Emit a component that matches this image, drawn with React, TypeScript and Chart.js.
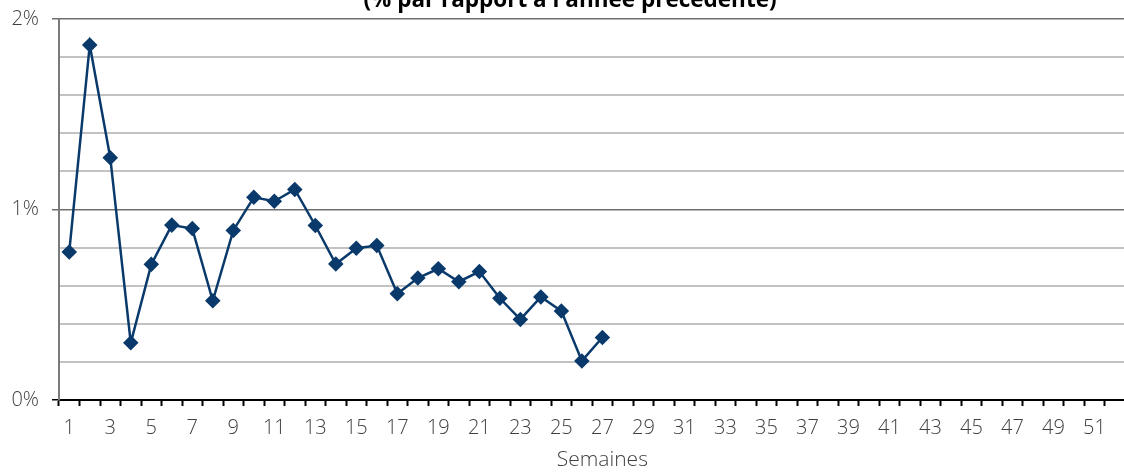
import React, { useEffect, useRef } from "react";
import { Chart, registerables } from "chart.js";

Chart.register(...registerables);

const TITLE = "(% par rapport à l'année précédente)";
const X_TITLE = "Semaines";
const WEEK_COUNT = 53;
const weeks: string[] = Array.from({ length: WEEK_COUNT }, (_, i) => String(i + 1));
const values: number[] = [
  0.777, 1.864, 1.272, 0.3, 0.712, 0.918, 0.9, 0.521, 0.89, 1.064,
  1.043, 1.105, 0.916, 0.714, 0.797, 0.811, 0.558, 0.64, 0.689, 0.621,
  0.674, 0.534, 0.423, 0.541, 0.467, 0.205, 0.328,
];
const Y_MIN = 0;
const Y_MAX = 2;
const Y_STEP = 0.2;

const LINE_COLOR = "#0a3a6b";
const TEXT_COLOR = "#404040";
const FONT = "'Open Sans', 'Noto Sans', sans-serif";

const titlePlugin = {
  id: "clippedTitle",
  afterDraw(chart: any) {
    const ctx = chart.ctx;
    ctx.save();
    ctx.font = `bold 22.5px ${FONT}`;
    ctx.fillStyle = "#000";
    ctx.textAlign = "center";
    ctx.textBaseline = "alphabetic";
    ctx.fillText(TITLE, 570, 7);
    ctx.restore();
  },
};

export default function App() {
  const ref = useRef<HTMLCanvasElement | null>(null);

  useEffect(() => {
    if (!ref.current) return;
    const isMajor = (v: number) => Math.abs(v - Math.round(v)) < 1e-6;
    const chart = new Chart(ref.current, {
      type: "line",
      data: {
        labels: weeks,
        datasets: [
          {
            data: values,
            borderColor: LINE_COLOR,
            backgroundColor: LINE_COLOR,
            borderWidth: 2.5,
            pointStyle: "rectRot",
            pointRadius: 6,
            pointHoverRadius: 6,
            pointBackgroundColor: LINE_COLOR,
            pointBorderColor: LINE_COLOR,
            tension: 0,
          },
        ],
      },
      options: {
        responsive: false,
        animation: false,
        events: [],
        layout: { padding: { top: 19, left: 0, right: 0, bottom: 0 } },
        plugins: {
          legend: { display: false },
          tooltip: { enabled: false },
          title: { display: false },
        },
        scales: {
          x: {
            type: "category",
            offset: true,
            afterFit: (scale: any) => {
              scale.height = 73;
            },
            grid: {
              offset: true,
              drawOnChartArea: false,
              drawTicks: true,
              tickLength: 6,
              tickColor: "#000",
              tickWidth: 2,
            },
            border: { display: true, color: "#000", width: 2 },
            ticks: {
              autoSkip: false,
              maxRotation: 0,
              minRotation: 0,
              padding: 10,
              color: TEXT_COLOR,
              font: { family: FONT, size: 20, weight: "300" },
              callback: (_v: any, i: number) => (i % 2 === 0 ? weeks[i] : ""),
            },
            title: {
              display: true,
              text: X_TITLE,
              color: TEXT_COLOR,
              font: { family: FONT, size: 21, weight: "300" },
              padding: { top: 0, bottom: 0 },
            },
          },
          y: {
            min: Y_MIN,
            max: Y_MAX,
            afterFit: (scale: any) => {
              scale.width = 59;
              scale.paddingTop = 0;
              scale.paddingBottom = 0;
            },
            grid: {
              color: (c: any) => {
                const v = c.tick?.value ?? 0;
                if (Math.abs(v) < 1e-6) return "rgba(0,0,0,0)";
                return isMajor(v) ? "#6e6e6e" : "#c2c2c2";
              },
              lineWidth: (c: any) => {
                const v = c.tick?.value ?? 0;
                return isMajor(v) ? 1.5 : 2;
              },
              drawTicks: true,
              tickLength: 7,
              tickColor: (c: any) => {
                const v = c.tick?.value ?? 0;
                if (!isMajor(v)) return "rgba(0,0,0,0)";
                return Math.abs(v) < 1e-6 ? "#000" : "#6e6e6e";
              },
              tickWidth: 1.5,
            },
            border: { display: true, color: "#7a7a7a", width: 2 },
            ticks: {
              stepSize: Y_STEP,
              autoSkip: false,
              padding: 13,
              color: TEXT_COLOR,
              font: { family: FONT, size: 20, weight: "300" },
              callback: (v: any) => (isMajor(Number(v)) ? `${Math.round(Number(v))}%` : ""),
            },
          },
        },
      },
      plugins: [titlePlugin],
    });
    return () => chart.destroy();
  }, []);

  return (
    <div
      style={{
        position: "fixed",
        left: 0,
        top: 0,
        width: 1124,
        height: 473,
        overflow: "hidden",
        background: "#fff",
      }}
    >
      <canvas
        ref={ref}
        width={1157}
        height={473}
        style={{ position: "absolute", left: 0, top: 0, width: 1157, height: 473 }}
      />
    </div>
  );
}
